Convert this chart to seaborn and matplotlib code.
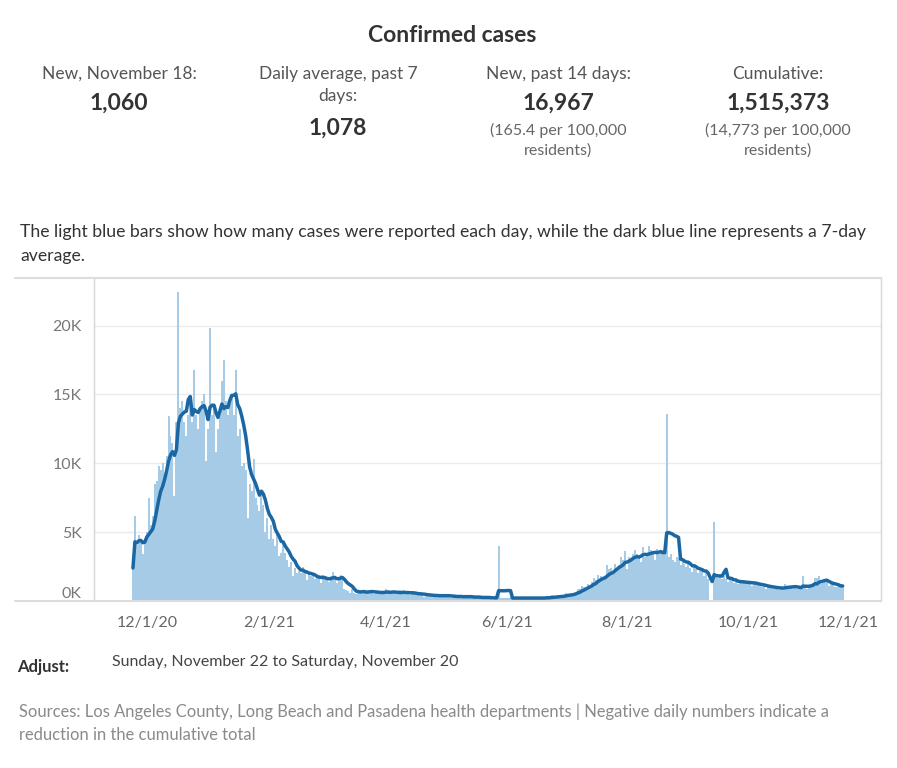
import pandas as pd
import matplotlib.pyplot as plt
import matplotlib.lines as mlines
import matplotlib.transforms as mtrans
import seaborn as sns

sns.set_theme(style="white")
plt.rcParams['font.family'] = ['Lato', 'DejaVu Sans']

# --- data --------------------------------------------------------------
first_day = "2020-11-24"
origin = "2020-12-01"

# daily new cases in thousands, one row per week starting 11/24/20
daily_k = [
    2.4, 6.2, 4.1, 4.8, 4.5, 3.4, 4.5,
    5.0, 7.5, 5.5, 6.2, 8.5, 8.7, 9.8,
    9.5, 10.0, 9.0, 10.5, 13.4, 12.0, 11.5,
    7.6, 13.0, 22.4, 14.0, 14.5, 13.0, 12.0,
    13.5, 14.5, 13.0, 16.8, 13.5, 12.5, 14.0,
    14.5, 15.0, 10.2, 12.5, 19.8, 13.5, 14.0,
    10.8, 12.5, 13.5, 16.0, 17.5, 14.5, 13.5,
    14.5, 15.0, 13.5, 16.8, 12.0, 12.5, 9.8,
    10.0, 9.5, 6.0, 8.5, 8.0, 10.3, 7.5,
    7.0, 6.5, 8.0, 7.0, 5.0, 6.0, 4.5,
    5.5, 4.5, 4.0, 5.0, 3.3, 3.5, 4.2,
    3.5, 3.0, 2.5, 2.8, 1.8, 2.4, 2.0,
    2.2, 2.0, 2.5, 2.1, 1.5, 1.9, 1.8,
    1.9, 1.6, 1.8, 1.7, 1.3, 1.9, 1.7,
    1.5, 1.4, 1.8, 2.1, 1.6, 1.3, 1.6,
    1.9, 1.6, 0.9, 0.8, 0.7, 0.6, 0.9,
    0.6, 0.5, 0.7, 0.6, 0.8, 0.7, 0.6,
    0.7, 0.6, 0.8, 0.5, 0.7, 0.6, 0.5,
    0.6, 0.7, 0.9, 0.6, 0.5, 0.7, 0.6,
    0.5, 0.6, 0.8, 0.6, 0.7, 0.5, 0.6,
    0.4, 0.6, 0.7, 0.5, 0.5, 0.4, 0.5,
    0.3, 0.5, 0.5, 0.4, 0.4, 0.3, 0.4,
    0.3, 0.4, 0.5, 0.4, 0.4, 0.3, 0.4,
    0.2, 0.3, 0.4, 0.3, 0.4, 0.3, 0.3,
    0.2, 0.3, 0.4, 0.3, 0.3, 0.2, 0.3,
    0.2, 0.2, 0.3, 0.3, 0.3, 0.2, 0.2,
    0.1, 0.2, 0.3, 4.0, 0.2, 0.2, 0.2,
    0.2, 0.2, 0.3, 0.2, 0.2, 0.2, 0.2,
    0.2, 0.2, 0.3, 0.2, 0.2, 0.2, 0.2,
    0.2, 0.2, 0.3, 0.2, 0.2, 0.2, 0.3,
    0.2, 0.3, 0.4, 0.3, 0.3, 0.3, 0.4,
    0.3, 0.4, 0.6, 0.5, 0.5, 0.4, 0.6,
    0.6, 0.9, 0.9, 1.1, 1.0, 0.9, 1.2,
    1.1, 1.4, 1.7, 1.5, 1.9, 1.6, 1.8,
    1.6, 1.8, 2.6, 2.3, 2.4, 2.1, 2.7,
    2.4, 2.6, 3.2, 3.0, 3.6, 2.3, 3.2,
    3.0, 3.4, 3.7, 3.4, 3.3, 2.8, 3.9,
    3.2, 3.3, 4.0, 3.7, 3.6, 3.0, 3.8,
    3.4, 3.6, 3.5, 3.7, 13.6, 3.2, 3.4,
    3.0, 2.8, 3.2, 3.1, 2.6, 2.9, 2.7,
    2.5, 2.7, 2.4, 2.1, 2.6, 2.3, 2.0,
    2.2, 2.3, 1.8, 2.0, 1.6, 0.0, 0.0,
    5.7, 1.8, 1.7, 1.9, 1.6, 1.8, 1.6,
    1.4, 1.6, 1.5, 1.3, 1.5, 1.2, 1.4,
    1.3, 1.5, 1.4, 1.2, 1.4, 1.1, 1.3,
    1.2, 1.3, 1.1, 1.0, 1.2, 0.9, 1.0,
    1.0, 1.1, 0.9, 0.9, 1.0, 0.8, 0.9,
    1.0, 1.2, 1.1, 1.0, 1.1, 0.9, 1.0,
    0.9, 1.0, 0.9, 1.8, 1.0, 0.9, 1.0,
    1.1, 1.3, 1.7, 1.7, 1.8, 1.2, 1.3,
    1.4, 1.5, 1.1, 1.2, 1.3, 1.0, 1.0,
    1.1, 1.0, 1.06,
]

y_ticks = [0, 5, 10, 15, 20]
y_labels = ["0K", "5K", "10K", "15K", "20K"]
x_tick_dates = ["2020-12-01", "2021-02-01", "2021-04-01", "2021-06-01",
                "2021-08-01", "2021-10-01", "2021-12-01"]
x_tick_labels = ["12/1/20", "2/1/21", "4/1/21", "6/1/21", "8/1/21", "10/1/21", "12/1/21"]

kpi_labels = ["New, November 18:", "Daily average, past 7\ndays:", "New, past 14 days:", "Cumulative:"]
kpi_values = ["1,060", "1,078", "16,967", "1,515,373"]
kpi_notes = ["", "", "(165.4 per 100,000\nresidents)", "(14,773 per 100,000\nresidents)"]

# --- build frame --------------------------------------------------------
t0 = pd.Timestamp(origin)
dates = pd.date_range(first_day, periods=len(daily_k))
df = pd.DataFrame({'day': (dates - t0).days, 'cases': daily_k})
df['avg7'] = df['cases'].rolling(7, min_periods=1).mean()

W, H = 897, 768
def fx(x):
    return x / W
def fy(y):
    return 1 - y / H

fig = plt.figure(figsize=(W / 100, H / 100), dpi=100)
ax = fig.add_axes([fx(94), fy(601), (881 - 94) / W, (601 - 278) / H])

sns.barplot(data=df, x='day', y='cases', native_scale=True, color='#a6cbe6',
            saturation=1, width=1, linewidth=0, errorbar=None, ax=ax)
sns.lineplot(data=df, x='day', y='avg7', color='#1a67a3', linewidth=2.5, ax=ax)

ax.set_xlim(-26.7, 371.4)
ax.set_ylim(0, 23.45)
ax.set_xlabel('')
ax.set_ylabel('')
ax.set_yticks(y_ticks, y_labels)
ax.yaxis.grid(True, color='#ebebeb', linewidth=1)
ax.set_axisbelow(True)

xpos = (pd.to_datetime(x_tick_dates) - t0).days
ax.set_xticks(xpos, x_tick_labels)
months = (pd.date_range("2020-12-01", "2021-12-01", freq="MS") - t0).days
ax.set_xticks(months, minor=True)
ax.tick_params(axis='x', which='both', length=4, color='#e3e3e3', width=1)
ax.tick_params(axis='x', labelsize=11.5, labelcolor='#666666', pad=7)
ax.tick_params(axis='y', length=0, labelsize=11.5, labelcolor='#777777', pad=9)
ax.get_yticklabels()[0].set_verticalalignment('bottom')
last = ax.get_xticklabels()[-1]
last.set_transform(last.get_transform() + mtrans.ScaledTranslation(-0.2, 0, fig.dpi_scale_trans))

for side in ['top', 'bottom']:
    ax.spines[side].set_visible(False)
for side in ['left', 'right']:
    ax.spines[side].set_color('#d6d6d6')
    ax.spines[side].set_linewidth(1)

for yy in [278, 601]:
    fig.add_artist(mlines.Line2D([fx(15), fx(881)], [fy(yy), fy(yy)],
                                 color='#dddddd', linewidth=1.5))

# --- header texts -------------------------------------------------------
fig.text(fx(452), fy(35), "Confirmed cases", ha='center', va='center',
         fontsize=16.5, fontweight='bold', color='#333333')

cols = [119, 338, 558, 778]
for cx, lab, val, note in zip(cols, kpi_labels, kpi_values, kpi_notes):
    fig.text(fx(cx), fy(66), lab, ha='center', va='top', fontsize=12.5,
             color='#555555', linespacing=1.45)
    vy = 103 if '\n' not in lab else 128
    fig.text(fx(cx), fy(vy), val, ha='center', va='center', fontsize=16.5,
             fontweight='bold', color='#333333')
    if note:
        fig.text(fx(cx), fy(123), note, ha='center', va='top', fontsize=11.5,
                 color='#666666', linespacing=1.5)

fig.text(fx(20), fy(232),
         "The light blue bars show how many cases were reported each day, while the dark blue line represents a 7-day",
         ha='left', va='center', fontsize=12.7, color='#333333')
fig.text(fx(20), fy(256), "average.", ha='left', va='center', fontsize=12.7, color='#333333')

fig.text(fx(17), fy(667), "Adjust:", ha='left', va='center', fontsize=12,
         fontweight='bold', color='#333333')
fig.text(fx(112), fy(662), "Sunday, November 22 to Saturday, November 20", ha='left',
         va='center', fontsize=11.5, color='#444444')

fig.text(fx(19), fy(712),
         "Sources: Los Angeles County, Long Beach and Pasadena health departments | Negative daily numbers indicate a",
         ha='left', va='center', fontsize=11.9, color='#8a8a8a')
fig.text(fx(19), fy(735), "reduction in the cumulative total", ha='left', va='center',
         fontsize=11.9, color='#8a8a8a')

fig.savefig('out.png', dpi=100)
